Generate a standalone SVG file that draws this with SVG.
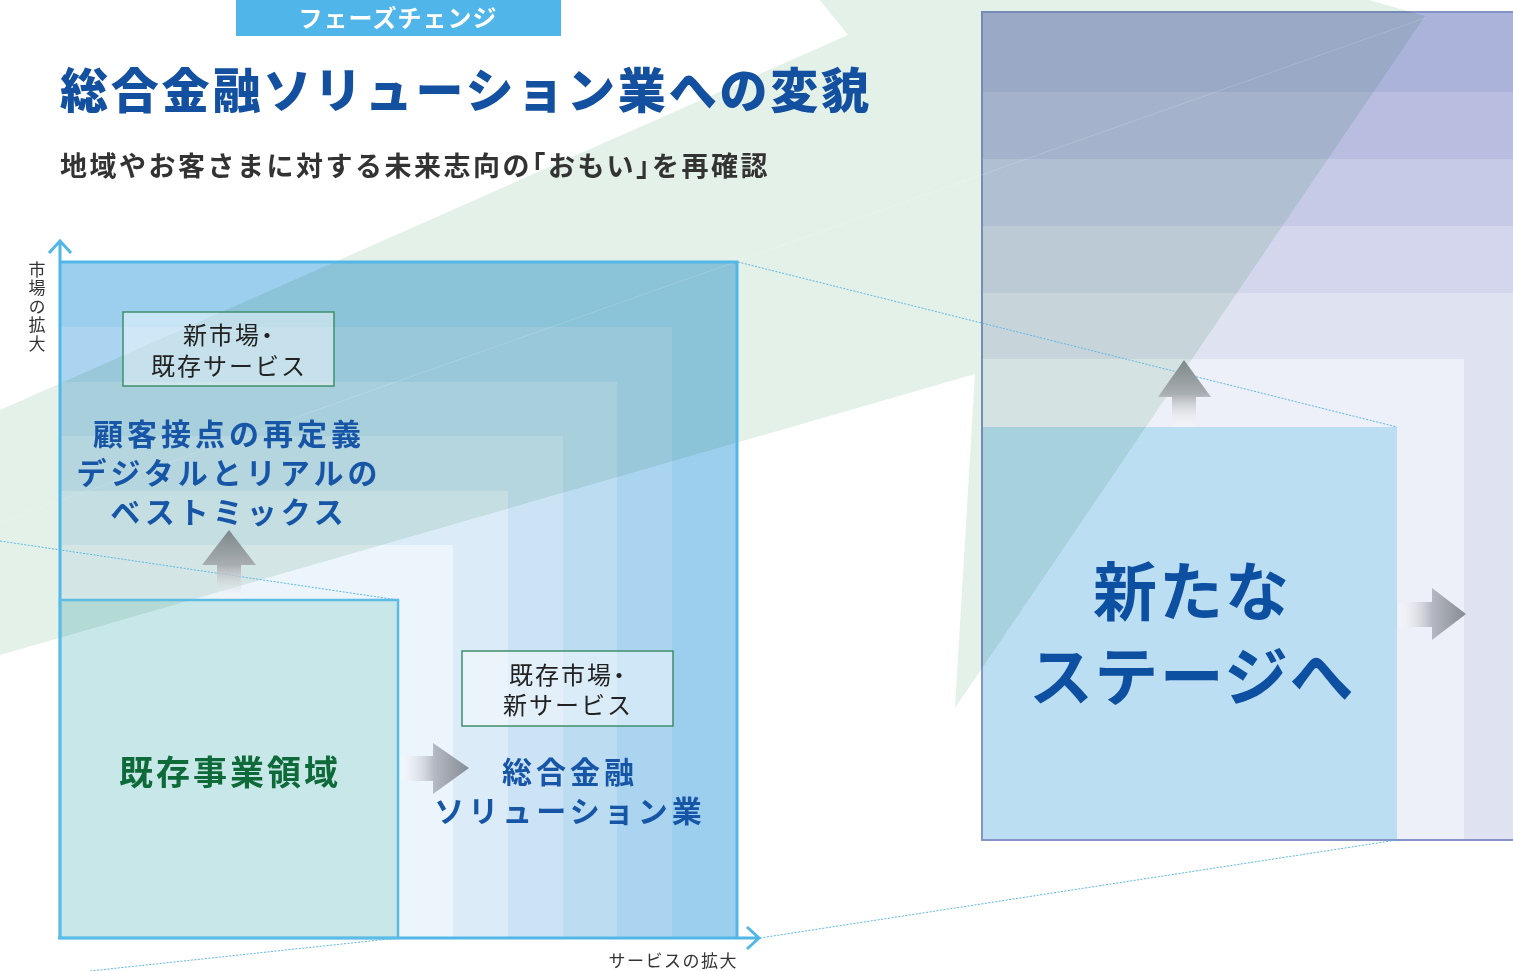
<svg xmlns="http://www.w3.org/2000/svg" width="1513" height="971" viewBox="0 0 1513 971">
<style>
.jp{font-family:"Noto Sans CJK JP","Noto Sans",sans-serif}
.mul{mix-blend-mode:multiply}
.dot{fill:none;stroke:#5ab8e6;stroke-width:1;stroke-dasharray:2 1.5}
.axis{fill:none;stroke:#52b7e7;stroke-width:3}
.lbl{fill:#222;font-size:24px;letter-spacing:2px;text-anchor:middle;font-feature-settings:"halt"}
.blue{fill:#1756a6;font-weight:700;font-size:30px;letter-spacing:4px;text-anchor:middle}
.box{fill:#ffffff;fill-opacity:0.45;stroke:#3f8f6c;stroke-width:1.5}
</style>
<defs>
<linearGradient id="gUp" x1="0" y1="0" x2="0" y2="1">
<stop offset="0" stop-color="#7d8889"/>
<stop offset="0.5" stop-color="#a8adb2"/>
<stop offset="1" stop-color="#ffffff" stop-opacity="0.2"/>
</linearGradient>
<linearGradient id="gRight" x1="0" y1="0" x2="1" y2="0">
<stop offset="0" stop-color="#ffffff" stop-opacity="0.2"/>
<stop offset="0.5" stop-color="#b4b8c2"/>
<stop offset="1" stop-color="#858b93"/>
</linearGradient>
</defs>
<rect width="1513" height="971" fill="#ffffff"/>
<polygon points="820,0 1369,0 1425,16 955,708 975,374 0,655 0,410 848,35" fill="#e4f1e8"/>

<g id="tag">
<rect x="236" y="0" width="325" height="36" fill="#50b5e9"/>
<text class="jp" x="398" y="27" fill="#ffffff" font-size="24" font-weight="700" text-anchor="middle" letter-spacing="1">フェーズチェンジ</text>
</g>
<g id="title">
<text class="jp" x="60" y="108" fill="#1350a0" font-size="48" font-weight="900" letter-spacing="2.8">総合金融ソリューション業への変貌</text>
<text class="jp" x="60" y="176" fill="#333333" font-size="27" font-weight="700" letter-spacing="2.5" style="font-feature-settings:'halt'">地域やお客さまに対する未来志向の「おもい」を再確認</text>
</g>

<g id="chart-bands" class="mul">
<rect x="60" y="262" width="678" height="676" fill="#9ccfee"/>
<rect x="60" y="327" width="612" height="611" fill="#aad4f0"/>
<rect x="60" y="382" width="557" height="556" fill="#bcdcf2"/>
<rect x="60" y="436" width="503" height="502" fill="#cce3f6"/>
<rect x="60" y="491" width="448" height="447" fill="#dbebf8"/>
<rect x="60" y="545" width="393" height="393" fill="#ecf4fc"/>
<rect id="existing-fill" x="60" y="600" width="338" height="338" fill="#c8e7e9"/>
</g>

<g id="panel" class="mul">
<rect x="982" y="12" width="540" height="828" fill="#abb3da"/>
<rect x="982" y="92" width="540" height="748" fill="#b9bddf"/>
<rect x="982" y="159" width="540" height="681" fill="#c6cae7"/>
<rect x="982" y="226" width="540" height="614" fill="#d3d6ec"/>
<rect x="982" y="293" width="540" height="547" fill="#dfe2f1"/>
<rect x="982" y="359" width="482" height="481" fill="#edf0f8"/>
<rect x="982" y="427" width="415" height="413" fill="#bbdef3"/>
<rect x="982" y="12" width="540" height="828" fill="none" stroke="#8593c8" stroke-width="2"/>
</g>
<line x1="0" y1="522" x2="1425" y2="18" stroke="#ffffff" stroke-opacity="0.15" stroke-width="1"/>

<g id="connectors">
<line class="dot" x1="738" y1="262" x2="1397" y2="427"/>
<line class="dot" x1="760" y1="938" x2="1397" y2="840"/>
<line class="dot" x1="0" y1="541" x2="398" y2="600"/>
<line class="dot" x1="90" y1="971" x2="398" y2="938"/>
<path id="arrow-up-left" d="M217,600 V565 H202 L229,530 L256,565 H241 V600 Z" fill="url(#gUp)"/>
<path id="arrow-right-left" d="M400,756 H433 V743 L469,768 L433,794 V781 H400 Z" fill="url(#gRight)"/>
<path id="arrow-up-right" d="M1172,427 V397 H1158 L1184,360 L1211,397 H1196 V427 Z" fill="url(#gUp)"/>
<path id="arrow-right-right" d="M1398,602 H1432 V588 L1466,614 L1432,640 V627 H1398 Z" fill="url(#gRight)"/>
</g>

<g id="axes">
<path class="axis" d="M60,938 V242 M49,253 L60,241 L71,253"/>
<path class="axis" d="M58,938 H758 M747,927 L759,938 L747,949"/>
<path class="axis" d="M60,262 H737 V938"/>
<rect x="60" y="600" width="338" height="338" fill="none" stroke="#5bbde6" stroke-width="2.5"/>
<text class="jp" x="37" y="261" fill="#333" font-size="17" letter-spacing="1.5" style="writing-mode:vertical-rl">市場の拡大</text>
<text class="jp" x="738" y="967" fill="#333" font-size="17" letter-spacing="1.5" text-anchor="end">サービスの拡大</text>
</g>

<g id="node-new-market">
<rect class="box" x="123" y="312" width="211" height="74"/>
<text class="jp lbl" x="229" y="344">新市場・</text>
<text class="jp lbl" x="229" y="375">既存サービス</text>
</g>
<g id="node-redefine">
<text class="jp blue" x="229" y="445">顧客接点の再定義</text>
<text class="jp blue" x="229" y="484">デジタルとリアルの</text>
<text class="jp blue" x="229" y="523" letter-spacing="6">ベストミックス</text>
</g>
<g id="node-existing">
<text class="jp" x="230" y="785" fill="#0f6a3a" font-size="34" font-weight="700" letter-spacing="3" text-anchor="middle">既存事業領域</text>
</g>
<g id="node-new-service">
<rect class="box" x="462" y="651" width="211" height="75"/>
<text class="jp lbl" x="568" y="684">既存市場・</text>
<text class="jp lbl" x="568" y="714">新サービス</text>
</g>
<g id="node-solution">
<text class="jp blue" x="570" y="783">総合金融</text>
<text class="jp blue" x="570" y="822">ソリューション業</text>
</g>
<g id="node-new-stage">
<text class="jp" x="1192" y="615" fill="#0d4fa0" font-size="64" font-weight="700" letter-spacing="2" text-anchor="middle">新たな</text>
<text class="jp" x="1192" y="700" fill="#0d4fa0" font-size="64" font-weight="700" letter-spacing="1.5" text-anchor="middle">ステージへ</text>
</g>
</svg>
